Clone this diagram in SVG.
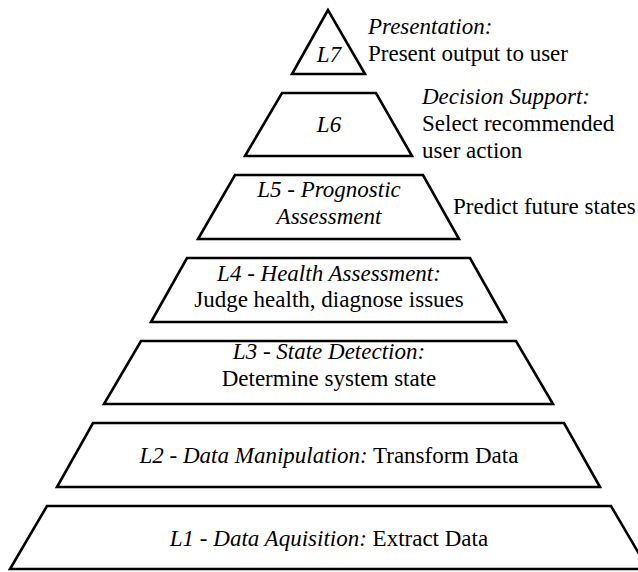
<svg xmlns="http://www.w3.org/2000/svg" width="638" height="572" viewBox="0 0 638 572">
  <style>
    .tier { fill: #ffffff; stroke: #000000; stroke-width: 2.6; stroke-linejoin: miter; }
    .c { text-anchor: middle; }
    .i { font-style: italic; }
  </style>
  <rect x="0" y="0" width="638" height="572" fill="#ffffff"/>

  <g font-family="Liberation Serif, Times New Roman, DejaVu Serif, serif" font-size="23" fill="#000000">
  <!-- L7: apex of the pyramid -->
  <g id="L7">
    <polygon class="tier" points="328,10 292,74 365,74"/>
    <text class="c i" x="329" y="62">L7</text>
    <text class="i" x="368" y="34">Presentation:</text>
    <text x="368" y="61">Present output to user</text>
  </g>

  <!-- L6 -->
  <g id="L6">
    <polygon class="tier" points="282,93 376,93 412,156 245,156"/>
    <text class="c i" x="329" y="132">L6</text>
    <text class="i" x="422" y="104">Decision Support:</text>
    <text x="422" y="131">Select recommended</text>
    <text x="422" y="158">user action</text>
  </g>

  <!-- L5 -->
  <g id="L5">
    <polygon class="tier" points="235,175 423,175 459,239 198,239"/>
    <text class="c i" x="329" y="197">L5 - Prognostic</text>
    <text class="c i" x="329" y="224">Assessment</text>
    <text x="453" y="214">Predict future states</text>
  </g>

  <!-- L4 -->
  <g id="L4">
    <polygon class="tier" points="187,258 470,258 506,322 151,322"/>
    <text class="c i" x="329" y="281">L4 - Health Assessment:</text>
    <text class="c" x="329" y="307">Judge health, diagnose issues</text>
  </g>

  <!-- L3 -->
  <g id="L3">
    <polygon class="tier" points="141,341 516,341 553,404 104,404"/>
    <text class="c i" x="329" y="359">L3 - State Detection:</text>
    <text class="c" x="329" y="386">Determine system state</text>
  </g>

  <!-- L2 -->
  <g id="L2">
    <polygon class="tier" points="93,423 564,423 600,487 57,487"/>
    <text class="c" x="329" y="463"><tspan class="i">L2 - Data Manipulation:</tspan> Transform Data</text>
  </g>

  <!-- L1: base of the pyramid -->
  <g id="L1">
    <polygon class="tier" points="47,506 611,506 648,569 10,569"/>
    <text class="c" x="329" y="546"><tspan class="i">L1 - Data Aquisition:</tspan> Extract Data</text>
  </g>
  </g>

  <g id="connectors"/>
</svg>
